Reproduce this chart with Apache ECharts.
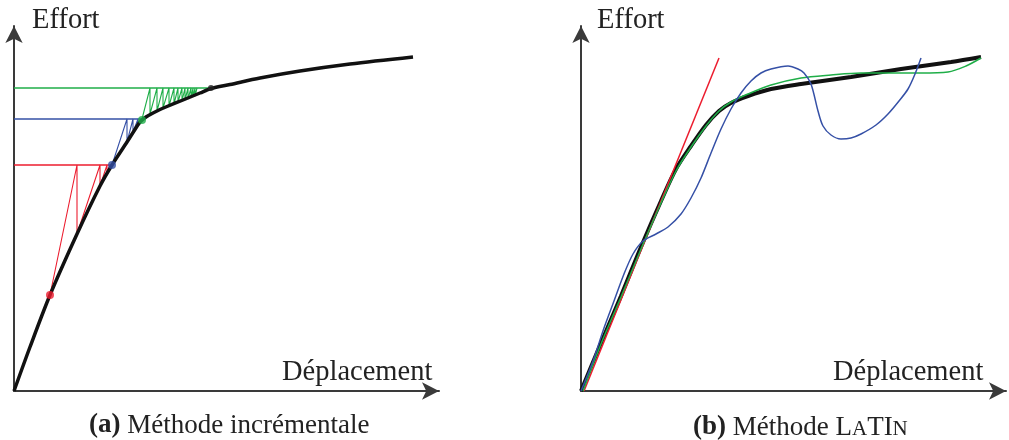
<!DOCTYPE html>
<html><head><meta charset="utf-8">
<script src="https://cdn.jsdelivr.net/npm/echarts@6/dist/echarts.min.js"></script>
<style>html,body{margin:0;padding:0;background:#fff}#c{width:1009px;height:440px}</style>
</head><body><div id="c"></div><script>
// Panel (a): incremental method (units: x = displacement, y = force)
const aCurve = [[0,0],[16,44],[36,96],[63,157],[86,205],[98,226],[113,249],[120,260],[126,269],[132,274],[139,278],[146,281.5],[153,284.5],[169,291],[186,298],[197,302.5],[216,306.5],[246,313],[286,320],[336,327],[399,334]];
const aRedLevel = [[0,226],[98,226]];
const aRedIter = [[36,96],[63,226],[63,157],[86,226],[86,205],[93,226],[93,217],[96,226]];
const aBlueLevel = [[0,272],[128,272]];
const aBlueIter = [[98,226],[113,272],[113,249],[119,272],[119,259],[124,272],[124,266],[128,272]];
const aGreenLevel = [[0,303],[197,303]];
const aGreenIter = [[128,272],[136,303],[136,277],[143,303],[143,280],[149,303],[149,283],[155,303],[155,285],[160,303],[160,287],[164,303],[164,289],[168,303],[168,290],[171,303],[171,291],[174,303],[174,292],[177,303],[177,293],[179,303],[179,294],[181,303],[181,295],[183,303]];
const aDotRed = [[36,96]];
const aDotBlue = [[98,226]];
const aDotGreen = [[128,271]];
const aDotBlack = [[197,303]];

// Panel (b): LATIN method
const bCurve = [[0,0],[20,48],[40,95],[60,144],[80,190],[95,222],[110,245],[125,266],[138,280],[150,288],[167,295],[190,302],[220,307],[270,314],[320,322],[370,329],[400,334]];
const bRed = [[3,0],[138,333]];
const bGreen = [[2,0],[20,47],[40,94],[60,142],[80,188],[95,220],[110,244],[125,265],[138,280],[150,289],[167,297],[190,306],[220,313],[250,316],[280,318],[310,318],[340,318],[367,319],[385,325],[400,333]];
const bBlue = [[0,0],[12,30],[23,63],[33,90],[43,117],[52,137],[62,150],[75,157],[87,164],[100,177],[110,193],[120,213],[130,238],[140,262],[150,282],[160,298],[170,310],[180,318],[190,322],[207,325],[217,322],[223,318],[230,307],[237,280],[242,265],[250,256],[260,252],[270,253],[280,257],[295,266],[307,277],[318,290],[327,302],[334,317],[340,333]];

const RED='#ec1c2e', BLUE='#3550a6', GREEN='#1fae48', BLACK='#111111', AXIS='#3a3a3a';
const SERIF='"Liberation Serif","DejaVu Serif",serif';

function axisX(gi){return {type:'value',gridIndex:gi,min:0,max:425,
  axisLine:{show:true,onZero:false,lineStyle:{color:AXIS,width:2},symbol:['none','arrow'],symbolSize:[13,17]},
  axisTick:{show:false},axisLabel:{show:false},splitLine:{show:false}};}
function axisY(gi){return {type:'value',gridIndex:gi,min:0,max:365,
  axisLine:{show:true,onZero:false,lineStyle:{color:AXIS,width:2},symbol:['none','arrow'],symbolSize:[13,17]},
  axisTick:{show:false},axisLabel:{show:false},splitLine:{show:false}};}
function line(gi,data,color,width,smooth,z){return {type:'line',xAxisIndex:gi,yAxisIndex:gi,data:data,
  showSymbol:false,smooth:smooth||false,lineStyle:{color:color,width:width},z:z||2,silent:true};}
function dot(gi,data,color,size){return {type:'scatter',xAxisIndex:gi,yAxisIndex:gi,data:data,
  symbolSize:size,itemStyle:{color:color},z:5,silent:true};}

const txt = (t,l,tp)=>({text:t,left:l,top:tp,padding:0,
  textStyle:{fontFamily:SERIF,fontSize:28.5,fontWeight:'normal',color:'#222'}});

const chart = echarts.init(document.getElementById('c'));
chart.setOption({
  animation:false,
  backgroundColor:'#fff',
  grid:[{left:14,top:26,width:425,height:365},{left:581,top:26,width:425,height:365}],
  xAxis:[axisX(0),axisX(1)],
  yAxis:[axisY(0),axisY(1)],
  title:[
    txt('Effort',32,6),
    txt('Déplacement',282,358),
    txt('Effort',597,6),
    txt('Déplacement',833,358),
    {text:'{b|(a)} Méthode incrémentale',left:89,top:412,padding:0,
     textStyle:{fontFamily:SERIF,fontSize:27,color:'#222',fontWeight:'normal',
       rich:{b:{fontFamily:SERIF,fontSize:27,fontWeight:'bold',color:'#222'}}}},
    {text:'{b|(b)}{n| Méthode L}{s|A}{n|TI}{s|N}',left:693,top:412,padding:0,
     textStyle:{fontFamily:SERIF,fontSize:27,color:'#222',fontWeight:'normal',
       rich:{b:{fontFamily:SERIF,fontSize:27,fontWeight:'bold',color:'#222',verticalAlign:'bottom',lineHeight:29},
             n:{fontFamily:SERIF,fontSize:27,color:'#222',verticalAlign:'bottom',lineHeight:29},
             s:{fontFamily:SERIF,fontSize:21,color:'#222',verticalAlign:'bottom',lineHeight:29,padding:[0,0,1,0]}}}}
  ],
  series:[
    line(0,aRedLevel,RED,1.3),
    line(0,aRedIter,RED,1.1),
    line(0,aBlueLevel,BLUE,1.3),
    line(0,aBlueIter,BLUE,1.1),
    line(0,aGreenLevel,GREEN,1.3),
    line(0,aGreenIter,GREEN,1.1),
    line(0,aCurve,BLACK,3.5,0.3,3),
    dot(0,aDotRed,RED,8),
    dot(0,aDotBlue,BLUE,8),
    dot(0,aDotGreen,GREEN,8),
    dot(0,aDotBlack,'#222',6),
    line(1,bCurve,BLACK,4,0.3,2),
    line(1,bRed,RED,1.5,false,3),
    line(1,bGreen,GREEN,1.5,0.3,4),
    line(1,bBlue,BLUE,1.5,0.3,4)
  ]
});
</script></body></html>
